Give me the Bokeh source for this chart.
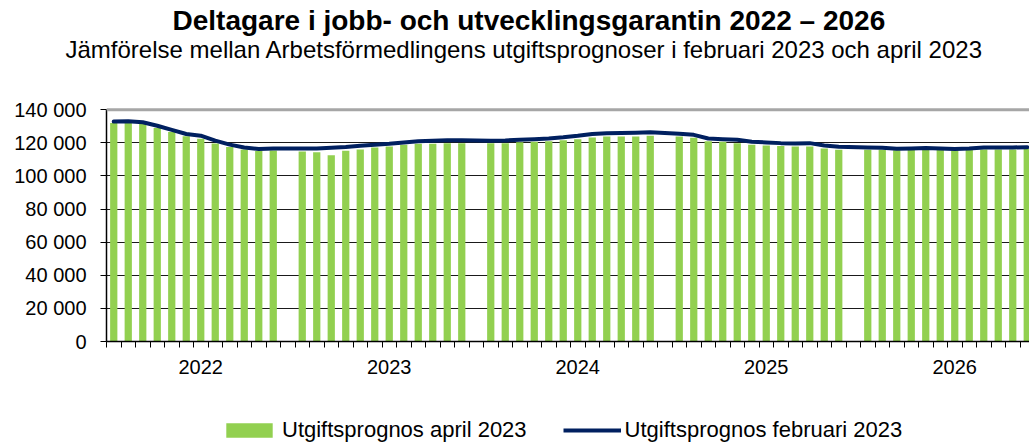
from bokeh.plotting import figure
from bokeh.layouts import column
from bokeh.models import (ColumnDataSource, FixedTicker, Legend, LegendItem,
                          Span, Title, Range1d)
from bokeh.embed import file_html
from bokeh.resources import INLINE

# ---------------- data ----------------
years = ["2022", "2023", "2024", "2025", "2026"]

# Utgiftsprognos april 2023 (bars), Jan..Dec per year
april_2022 = [132000, 132500, 131500, 129000, 126500, 124000, 122500, 119500, 117500, 116000, 115000, 115300]
april_2023 = [114700, 114300, 112500, 115200, 115900, 117200, 117800, 118800, 119400, 119400, 119800, 119800]
april_2024 = [119800, 119800, 120400, 120600, 121000, 121600, 122200, 123200, 123800, 123800, 123800, 124200]
april_2025 = [123800, 123000, 121000, 120600, 119800, 118800, 118400, 118000, 117800, 117800, 116500, 115800]
april_2026 = [115800, 115800, 115500, 115600, 115700, 115600, 115400, 115600, 116000, 116000, 116000, 116200]

# Utgiftsprognos februari 2023 (line), Jan..Dec per year
feb_2022 = [132800, 133000, 132400, 130300, 127800, 125300, 124300, 121300, 118900, 117200, 116300, 116600]
feb_2023 = [116500, 116600, 117000, 117500, 118200, 118800, 119400, 120200, 121000, 121300, 121600, 121500]
feb_2024 = [121200, 121400, 121800, 122200, 122600, 123300, 124200, 125300, 125700, 125900, 126100, 126300]
feb_2025 = [125500, 124800, 122600, 122200, 121800, 120600, 120200, 119800, 119600, 119800, 118400, 117600]
feb_2026 = [117200, 117000, 116400, 116600, 116800, 116600, 116200, 116600, 117200, 117200, 117200, 117300]

y_ticks = [0, 20000, 40000, 60000, 80000, 100000, 120000, 140000]
y_tick_labels = ["0", "20 000", "40 000", "60 000", "80 000", "100 000", "120 000", "140 000"]

title_text = "Deltagare i jobb- och utvecklingsgarantin 2022 \u2013 2026"
subtitle_text = "Jämförelse mellan Arbetsförmedlingens utgiftsprognoser i februari 2023 och april 2023"
legend_labels = ["Utgiftsprognos april 2023", "Utgiftsprognos februari 2023"]

BAR_COLOR = "#92d050"
LINE_COLOR = "#002060"

# ---------------- build table ----------------
april = [april_2022, april_2023, april_2024, april_2025, april_2026]
feb = [feb_2022, feb_2023, feb_2024, feb_2025, feb_2026]
slots_per_year = 13  # 12 months + one empty slot per year on the category axis

xs, a_vals, f_vals = [], [], []
for i, (a, f) in enumerate(zip(april, feb)):
    for m in range(12):
        xs.append(i * slots_per_year + m)
        a_vals.append(a[m])
        f_vals.append(f[m])
src = ColumnDataSource(dict(x=xs, april=a_vals, feb=f_vals))

FONT = "Liberation Sans"
W = 1029
LEG_H = 30
H = 443 - LEG_H
FRAME_LEFT, FRAME_BOTTOM = 106, 341
FRAME_TOP_EST = 60          # where the titles end (frame top)
Y_TOP_PX = 110              # pixel row of the 140 000 line
y_max = y_ticks[-1]
y_end = y_max * (FRAME_BOTTOM - FRAME_TOP_EST) / (FRAME_BOTTOM - Y_TOP_PX)
slot_px = 14.5
x_end = -0.5 + (W - FRAME_LEFT) / slot_px

p = figure(width=W, height=H, output_backend="svg", toolbar_location=None,
           x_range=Range1d(-0.5, x_end), y_range=Range1d(0, y_end),
           min_border_left=FRAME_LEFT, min_border_right=0, min_border_top=0,
           min_border_bottom=H - FRAME_BOTTOM,
           outline_line_color=None, background_fill_color="white", border_fill_color="white")

# grid
p.xgrid.visible = False
p.ygrid.ticker = FixedTicker(ticks=y_ticks[1:-1])
p.ygrid.grid_line_color = "#1a1a1a"
p.ygrid.grid_line_width = 1

top_line = Span(location=y_max, dimension="width", line_color="#a6a6a6", line_width=3)
p.add_layout(top_line)

# glyphs
bars = p.vbar(x="x", top="april", width=0.5, source=src, fill_color=BAR_COLOR, line_color=None)
line = p.line(x="x", y="feb", source=src, line_color=LINE_COLOR, line_width=4,
              line_join="round", line_cap="round")

# y axis
ya = p.yaxis[0]
ya.ticker = FixedTicker(ticks=y_ticks)
ya.bounds = (0, y_max)
ya.major_label_overrides = dict(zip(y_ticks, y_tick_labels))
ya.minor_tick_line_color = None
ya.major_tick_out = 6
ya.major_tick_in = 0
ya.major_label_standoff = 14
ya.major_label_text_font = FONT
ya.major_label_text_font_size = "20px"
ya.major_label_text_color = "#000000"
ya.axis_line_color = "#000000"
ya.axis_line_width = 1.5
ya.major_tick_line_color = "#000000"

# x axis: year labels centred on each 13-slot group, minor ticks on slot edges
n_slots = slots_per_year * len(years)
year_centers = [i * slots_per_year + (slots_per_year - 1) / 2 for i in range(len(years))]
xa = p.xaxis[0]
xa.ticker = FixedTicker(ticks=year_centers, minor_ticks=[k - 0.5 for k in range(n_slots + 1)])
xa.major_label_overrides = {c: y for c, y in zip(year_centers, years)}
xa.major_tick_line_color = None
xa.major_tick_out = 0
xa.major_tick_in = 0
xa.minor_tick_out = 6
xa.minor_tick_in = 0
xa.minor_tick_line_color = "#000000"
xa.minor_tick_line_width = 1
xa.major_label_standoff = 12
xa.major_label_text_font = FONT
xa.major_label_text_font_size = "20px"
xa.major_label_text_color = "#000000"
xa.axis_line_color = "#000000"
xa.axis_line_width = 1.5

# titles
sub = Title(text=subtitle_text, text_font=FONT, text_font_size="24px", text_font_style="normal",
            text_color="#000000", align="left", offset=-41, standoff=-7)
p.add_layout(sub, "above")
tit = Title(text=title_text, text_font=FONT, text_font_size="28px", text_font_style="bold",
            text_color="#000000", align="left", offset=66, standoff=4)
p.add_layout(tit, "above")

# ---------------- legend strip ----------------
lf = figure(width=W, height=LEG_H, output_backend="svg", toolbar_location=None,
            x_range=Range1d(0, 1), y_range=Range1d(0, 1),
            min_border_left=0, min_border_right=0, min_border_top=0, min_border_bottom=0,
            outline_line_color=None, background_fill_color="white", border_fill_color="white")
lf.axis.visible = False
lf.grid.visible = False
nan = float("nan")
swatch = ColumnDataSource(dict(x=[nan], y=[nan]))
lg_bars = lf.vbar(x="x", top="y", width=0.5, source=swatch, fill_color=BAR_COLOR, line_color=None)
lg_line = lf.line(x="x", y="y", source=swatch, line_color=LINE_COLOR, line_width=4)

legend = Legend(items=[LegendItem(label=legend_labels[0], renderers=[lg_bars]),
                       LegendItem(label=legend_labels[1], renderers=[lg_line])],
                orientation="horizontal", location=(114, 0),
                label_text_font=FONT, label_text_font_size="22px", label_text_color="#000000",
                glyph_width=58, glyph_height=18, label_standoff=4, spacing=36,
                padding=0, margin=0, border_line_color=None, background_fill_color=None)
lf.add_layout(legend, "center")

layout = column(p, lf, spacing=0)
open("out.html", "w").write(file_html(layout, INLINE))
